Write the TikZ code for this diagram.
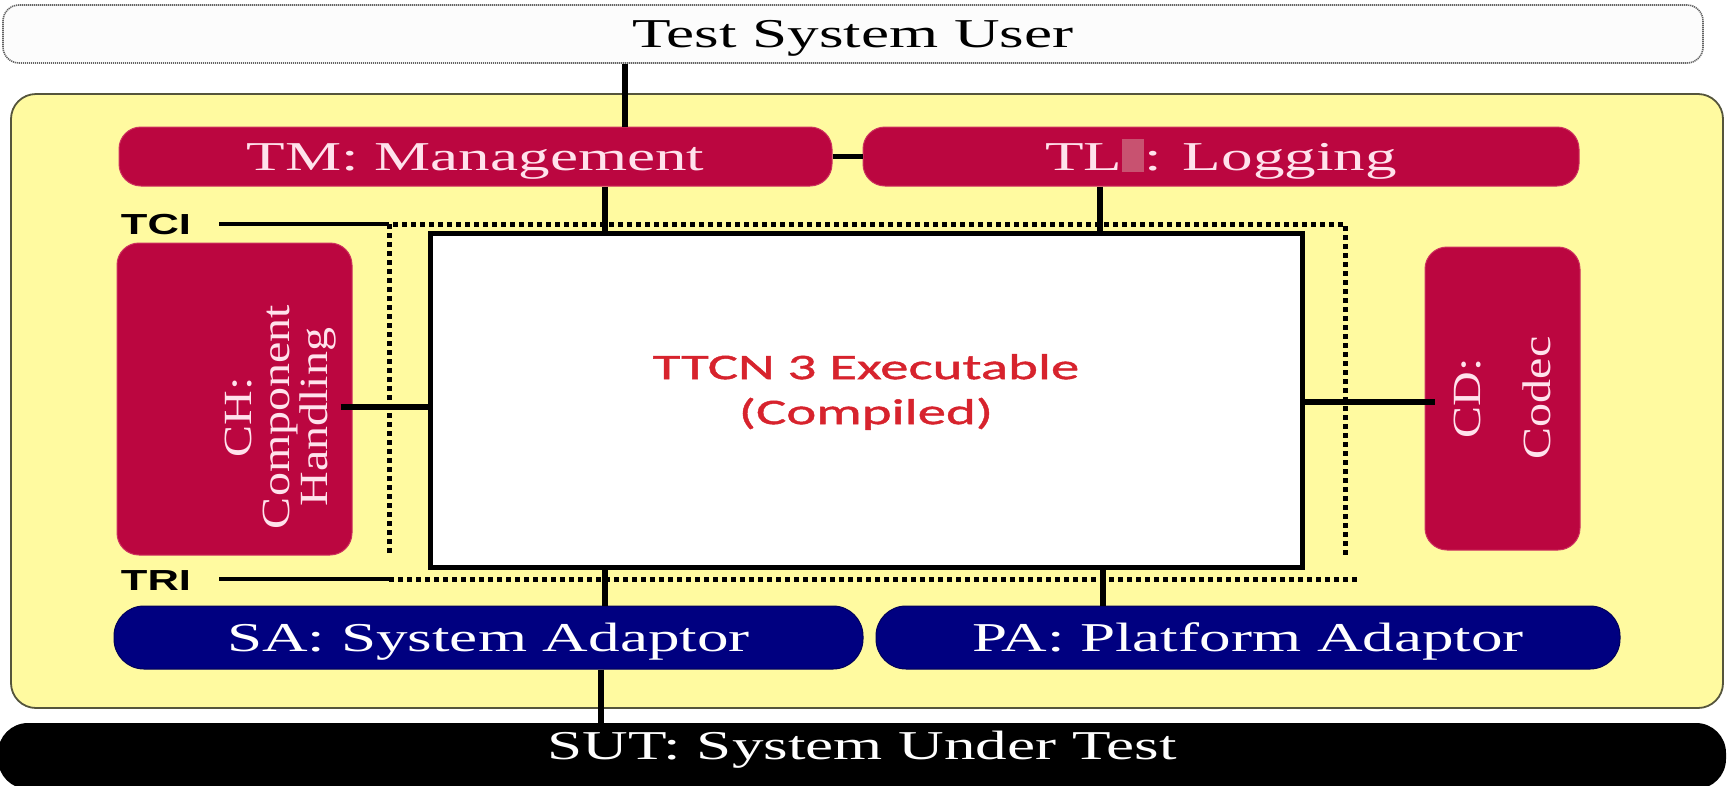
\documentclass[tikz,border=0pt]{standalone}
\usepackage{fontspec}
\usepackage{graphicx}
\setmainfont{Liberation Serif}
\newfontfamily\boxfont[FakeStretch=1.54]{Liberation Serif}
\newfontfamily\rotfont[FakeStretch=1.2]{Liberation Serif}
\newfontfamily\tagfont[FakeStretch=1.5]{Liberation Sans}
\newfontfamily\exefont[FakeStretch=1.58, FakeBold=1.2]{Carlito}

\definecolor{crimson}{RGB}{187,6,64}
\definecolor{crimsonedge}{RGB}{205,50,95}
\definecolor{navyblue}{RGB}{0,0,128}
\definecolor{paleyellow}{RGB}{255,250,160}
\definecolor{yellowedge}{RGB}{85,85,60}
\definecolor{pinktext}{RGB}{255,226,236}
\definecolor{exered}{RGB}{215,35,45}
\definecolor{tlmark}{RGB}{200,82,112}
\definecolor{tsuedge}{RGB}{100,100,100}
\definecolor{tsufill}{RGB}{252,252,252}

\tikzset{
  box/.style={rounded corners=22pt, inner sep=0pt, text height=27pt, text depth=0pt,
    font=\boxfont\fontsize{41}{41}\selectfont},
  redbox/.style={box, fill=crimson, draw=crimsonedge, line width=1pt, text=pinktext},
  bluebox/.style={box, fill=navyblue, draw=navyblue!70!black, line width=1pt, text=white,
    rounded corners=30pt},
  wire/.style={line width=5.5pt},
  dotline/.style={line width=5pt, dash pattern=on 5pt off 4pt},
  tagline/.style={line width=3.5pt},
  tag/.style={font=\tagfont\bfseries\fontsize{29}{29}\selectfont, inner sep=0pt,
    text height=21pt, text depth=0pt},
  sidetext/.style={font=\rotfont\fontsize{40}{38}\selectfont, text=pinktext,
    align=center, rotate=90, inner sep=0pt},
}

\begin{document}
\begin{tikzpicture}[x=1pt, y=-1pt]
\useasboundingbox (0,0) rectangle (1734,785);

% outer environment
\node[box, rounded corners=16pt, fill=tsufill, draw=tsuedge, line width=1.6pt,
      dash pattern=on 1.2pt off 0.8pt, minimum width=1700pt, minimum height=58pt]
  (tsu) at (853,34) {Test System User};
\node[rounded corners=25pt, fill=paleyellow, draw=yellowedge, line width=1.8pt,
      minimum width=1712pt, minimum height=614pt, inner sep=0pt] (frame) at (867,401) {};
\node[box, rounded corners=30pt, fill=black, text=white, text depth=20pt,
      minimum width=1728pt, minimum height=66pt] (sut) at (862,756) {SUT: System Under Test};

% entities around the executable
\node[redbox, minimum width=713pt, minimum height=59pt] (tm) at (475.5,156.5) {TM: Management};
\node[redbox, minimum width=716pt, minimum height=59pt] (tl) at (1221,156.5)
  {TL\textcolor{tlmark}{\rule[-2pt]{22pt}{33pt}}: Logging};
\node[redbox, minimum width=235pt, minimum height=312pt] (ch) at (234.5,399) {};
\node[sidetext] (chtext) at (281,417) {CH:\\Component\\Handling};
\node[redbox, minimum width=155pt, minimum height=303pt] (cd) at (1502.5,398.5) {};
\node[sidetext, font=\rotfont\fontsize{40}{70}\selectfont] (cdtext) at (1502,398) {CD:\\Codec};
\node[bluebox, minimum width=749pt, minimum height=63pt] (sa) at (488.5,637.5) {SA: System Adaptor};
\node[bluebox, minimum width=744pt, minimum height=63pt] (pa) at (1248,637.5) {PA: Platform Adaptor};

% executable
\node[fill=white, draw=black, line width=5pt, minimum width=872pt, minimum height=334pt,
      inner sep=0pt] (exe) at (866,400) {};
\node[font=\exefont\fontsize{36}{45}\selectfont, text=exered, align=center, inner sep=0pt]
  (exetext) at (866,392) {TTCN 3 Executable\\(Compiled)};

% interface boundary (TCI above, TRI below)
\coordinate (dtl) at (389,224);
\coordinate (dtr) at (1345,224);
\coordinate (dbl) at (389,579);
\coordinate (dbr) at (1358,579);
\draw[dotline] (389,553) -- (dtl) -- (dtr) -- (1345,558);
\draw[dotline] (dbl) -- (dbr);
\node[tag] (tci) at (156,224) {TCI};
\node[tag] (tri) at (156,580) {TRI};
\draw[tagline] ([xshift=28pt]tci.east) -- (dtl);
\draw[tagline] ([xshift=28pt]tri.east |- dbl) -- (dbl);

% connectors
\coordinate (xu) at (625,0);
\coordinate (xm) at (605,0);
\coordinate (xl) at (1100,0);
\coordinate (xp) at (1103,0);
\coordinate (xs) at (601,0);
\coordinate (yh) at (0,407);
\coordinate (yc) at (0,402);
\draw[wire] (tsu.south -| xu) -- (tm.north -| xu);
\draw[wire] (tm.east) -- (tl.west);
\draw[wire] (tm.south -| xm) -- (exe.north -| xm);
\draw[wire] (tl.south -| xl) -- (exe.north -| xl);
\draw[wire] ([xshift=-12pt]ch.east |- yh) -- (exe.west |- yh);
\draw[wire] (exe.east |- yc) -- ([xshift=10pt]cd.west |- yc);
\draw[wire] (exe.south -| xm) -- (sa.north -| xm);
\draw[wire] (exe.south -| xp) -- (pa.north -| xp);
\draw[wire] (sa.south -| xs) -- (sut.north -| xs);
\end{tikzpicture}
\end{document}
